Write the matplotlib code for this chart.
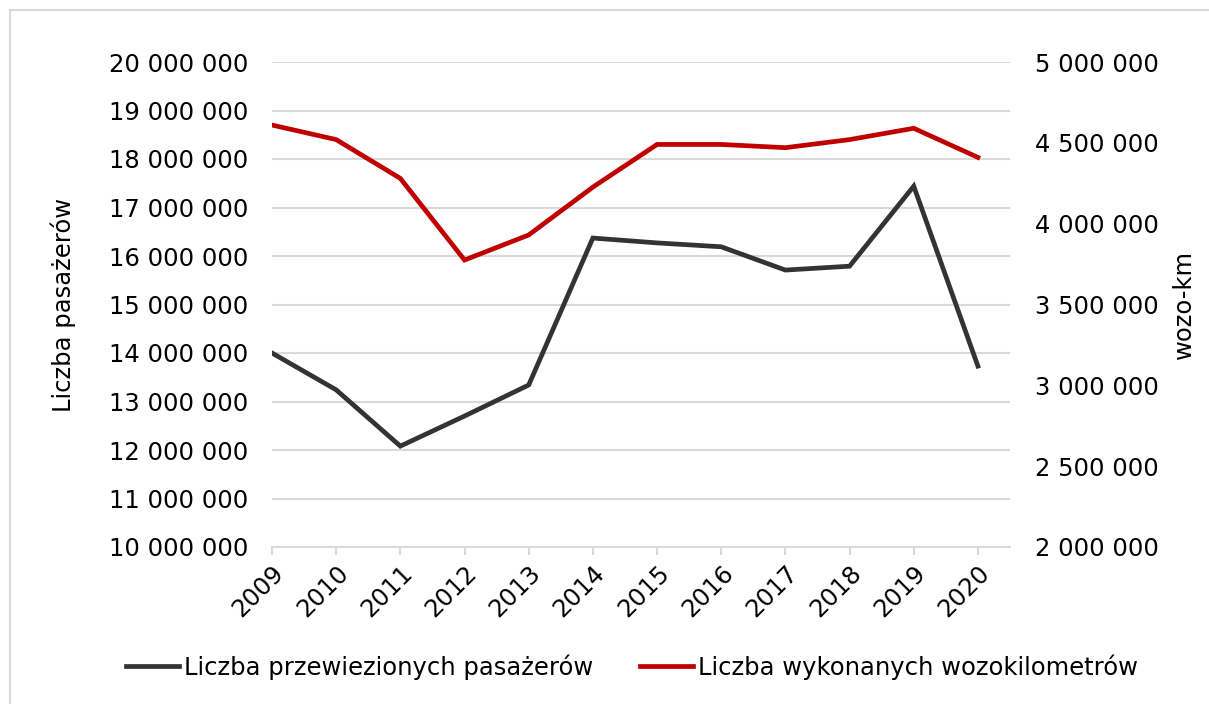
import matplotlib
matplotlib.use("Agg")
import matplotlib.pyplot as plt
from matplotlib.patches import Rectangle
from matplotlib.ticker import FuncFormatter

years = ["2009", "2010", "2011", "2012", "2013", "2014", "2015", "2016", "2017", "2018", "2019", "2020"]
passengers = [14.00e6, 13.24e6, 12.08e6, 12.70e6, 13.34e6, 16.37e6, 16.27e6, 16.19e6, 15.71e6, 15.79e6, 17.44e6, 13.73e6]
car_km = [4.61e6, 4.52e6, 4.28e6, 3.775e6, 3.93e6, 4.226e6, 4.49e6, 4.49e6, 4.47e6, 4.52e6, 4.59e6, 4.41e6]

plt.rcParams['font.family'] = ['DejaVu Sans']
FS = 17.5

fig = plt.figure(figsize=(12.09, 7.04), dpi=100)
fig.patches.append(Rectangle((10/1209, -0.1), 1.2, (704-10)/704 + 0.1, transform=fig.transFigure,
                             fill=False, edgecolor='#d9d9d9', linewidth=1.5, zorder=0))

ax = fig.add_axes([272/1209, 1-547/704, (1010-272)/1209, (547-62)/704])
ax2 = ax.twinx()

x = list(range(len(years)))
fmt = FuncFormatter(lambda v, p: f"{int(round(v)):,}".replace(",", " "))

ax.set_ylim(10e6, 20e6)
ax.set_yticks([10e6 + i*1e6 for i in range(11)])
ax.yaxis.set_major_formatter(fmt)
ax2.set_ylim(2e6, 5e6)
ax2.set_yticks([2e6 + i*0.5e6 for i in range(7)])
ax2.yaxis.set_major_formatter(fmt)
ax.set_xlim(0, 11.5)

ax.grid(axis='y', color='#d9d9d9', linewidth=1.5)
ax.set_axisbelow(True)
l1, = ax.plot(x, passengers, color='#333333', linewidth=3.4, solid_joinstyle='miter', zorder=3,
              label='Liczba przewiezionych pasażerów')
l2, = ax2.plot(x, car_km, color='#c00000', linewidth=3.4, solid_joinstyle='miter', zorder=3,
               label='Liczba wykonanych wozokilometrów')

for a in (ax, ax2):
    for s in ('top', 'left', 'right'):
        a.spines[s].set_visible(False)
ax2.spines['bottom'].set_visible(False)
ax.spines['bottom'].set_color('#d9d9d9')
ax.spines['bottom'].set_linewidth(1.5)

ax.set_xticks(x)
ax.set_xticklabels(years, rotation=45, ha='right', va='top', rotation_mode='anchor', fontsize=FS)
ax.tick_params(axis='x', length=6, width=1.5, color='#d9d9d9', pad=4)
ax.tick_params(axis='y', length=0, labelsize=FS, pad=17)
ax2.tick_params(axis='y', length=0, labelsize=FS, pad=18)

ax.set_ylabel('Liczba pasażerów', fontsize=FS)
ax.yaxis.set_label_coords(-0.265, 0.5)
ax2.set_ylabel('wozo-km', fontsize=FS, rotation=90)
ax2.yaxis.set_label_coords(1.2195, 0.5)

fig.legend(handles=[l1, l2], loc='center', bbox_to_anchor=(632/1209, 1-667/704), ncol=2,
           frameon=False, fontsize=FS, handlelength=2.2, handletextpad=0.2, columnspacing=1.9)

fig.savefig('out.png', dpi=100, facecolor='white')
